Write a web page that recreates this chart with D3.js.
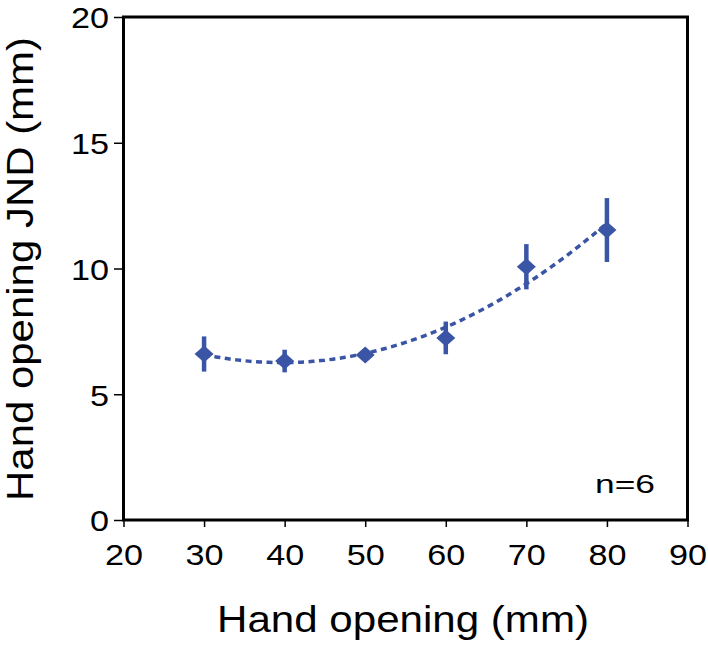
<!DOCTYPE html>
<html>
<head>
<meta charset="utf-8">
<script src="https://cdn.jsdelivr.net/npm/d3@7"></script>
<style>
  html, body { margin: 0; padding: 0; background: #fff; }
  svg { display: block; }
  text { font-family: "Liberation Sans", Arial, Helvetica, sans-serif; fill: #000; }
</style>
</head>
<body>
<svg id="chart" width="708" height="649"></svg>
<script>
// ---- data ----
const handOpening = [30, 40, 50, 60, 70, 80];          // mm
const jnd = [6.6, 6.32, 6.56, 7.24, 10.07, 11.53];     // mm
const jndErr = [0.7, 0.45, 0.15, 0.65, 0.9, 1.27];     // mm (error bar half-length)
const xTicks = [20, 30, 40, 50, 60, 70, 80, 90];
const yTicks = [0, 5, 10, 15, 20];
const xLabel = "Hand opening (mm)";
const yLabel = "Hand opening JND (mm)";
const note = "n=6";

// ---- layout ----
const svg = d3.select("#chart");
const L = 123.5, R = 687.5, T = 17, B = 520;
const blue = "#3a55a5";

const x = d3.scaleLinear().domain([20, 90]).range([L, R]);
const y = d3.scaleLinear().domain([0, 20]).range([B, T]);

// quadratic least-squares trend line fitted to the data
function quadFit(xs, ys) {
  let s = [0,0,0,0,0], t = [0,0,0];
  xs.forEach((xv, i) => {
    let p = 1;
    for (let k = 0; k < 5; k++) { s[k] += p; if (k < 3) t[k] += p * ys[i]; p *= xv; }
  });
  const M = [[s[0], s[1], s[2], t[0]], [s[1], s[2], s[3], t[1]], [s[2], s[3], s[4], t[2]]];
  for (let i = 0; i < 3; i++) {
    for (let j = i + 1; j < 3; j++) {
      const f = M[j][i] / M[i][i];
      for (let k = i; k < 4; k++) M[j][k] -= f * M[i][k];
    }
  }
  const c = [0,0,0];
  for (let i = 2; i >= 0; i--) {
    let v = M[i][3];
    for (let k = i + 1; k < 3; k++) v -= M[i][k] * c[k];
    c[i] = v / M[i][i];
  }
  return c;
}
const coef = quadFit(handOpening, jnd);
const fitX = d3.range(handOpening[0], handOpening[handOpening.length - 1] + 0.01, 0.5);
const fitPts = fitX.map(v => [v, coef[0] + coef[1] * v + coef[2] * v * v]);

// trend line
svg.append("path")
  .datum(fitPts)
  .attr("d", d3.line().x(d => x(d[0])).y(d => y(d[1])))
  .attr("fill", "none")
  .attr("stroke", blue)
  .attr("stroke-width", 3.5)
  .attr("stroke-dasharray", "6,4.5");

// error bars
svg.append("g").selectAll("line")
  .data(handOpening)
  .join("line")
  .attr("x1", d => x(d)).attr("x2", d => x(d))
  .attr("y1", (d, i) => y(jnd[i] - jndErr[i]))
  .attr("y2", (d, i) => y(jnd[i] + jndErr[i]))
  .attr("stroke", blue)
  .attr("stroke-width", 4.5);

// diamond markers
const dw = 9.5, dh = 8.5;
svg.append("g").selectAll("path")
  .data(handOpening)
  .join("path")
  .attr("d", (d, i) => {
    const cx = x(d), cy = y(jnd[i]);
    return `M${cx},${cy - dh}L${cx + dw},${cy}L${cx},${cy + dh}L${cx - dw},${cy}Z`;
  })
  .attr("fill", blue);

// axes
const xAxis = svg.append("g")
  .attr("transform", `translate(0,${B})`)
  .call(d3.axisBottom(x).tickValues(xTicks).tickSize(7).tickPadding(16).tickFormat(d3.format("d")));
const yAxis = svg.append("g")
  .attr("transform", `translate(${L},0)`)
  .call(d3.axisLeft(y).tickValues(yTicks).tickSize(9.5).tickPadding(5).tickFormat(d3.format("d")));
[xAxis, yAxis].forEach(g => {
  g.select(".domain").remove();
  g.selectAll(".tick line").attr("stroke", "#000").attr("stroke-width", 1.5);
  g.selectAll(".tick text")
    .attr("font-size", 30)
    .attr("font-family", "Liberation Sans, Arial, sans-serif")
    .attr("fill", "#000")
    .attr("textLength", d => String(d).length * 19)
    .attr("lengthAdjust", "spacingAndGlyphs");
});
yAxis.selectAll(".tick text").attr("dy", "0.36em");
xAxis.selectAll(".tick text").attr("dy", "0.72em");

// frame
svg.append("rect")
  .attr("x", L).attr("y", T)
  .attr("width", R - L).attr("height", B - T)
  .attr("fill", "none")
  .attr("stroke", "#000")
  .attr("stroke-width", 3);

// labels
svg.append("text")
  .attr("x", 403).attr("y", 632)
  .attr("text-anchor", "middle")
  .attr("font-size", 37)
  .attr("textLength", 372)
  .attr("lengthAdjust", "spacingAndGlyphs")
  .text(xLabel);

svg.append("text")
  .attr("transform", `translate(33,269) rotate(-90)`)
  .attr("text-anchor", "middle")
  .attr("font-size", 37)
  .attr("textLength", 464)
  .attr("lengthAdjust", "spacingAndGlyphs")
  .text(yLabel);

svg.append("text")
  .attr("x", 655).attr("y", 493)
  .attr("text-anchor", "end")
  .attr("font-size", 25)
  .attr("textLength", 60)
  .attr("lengthAdjust", "spacingAndGlyphs")
  .text(note);
</script>
</body>
</html>
